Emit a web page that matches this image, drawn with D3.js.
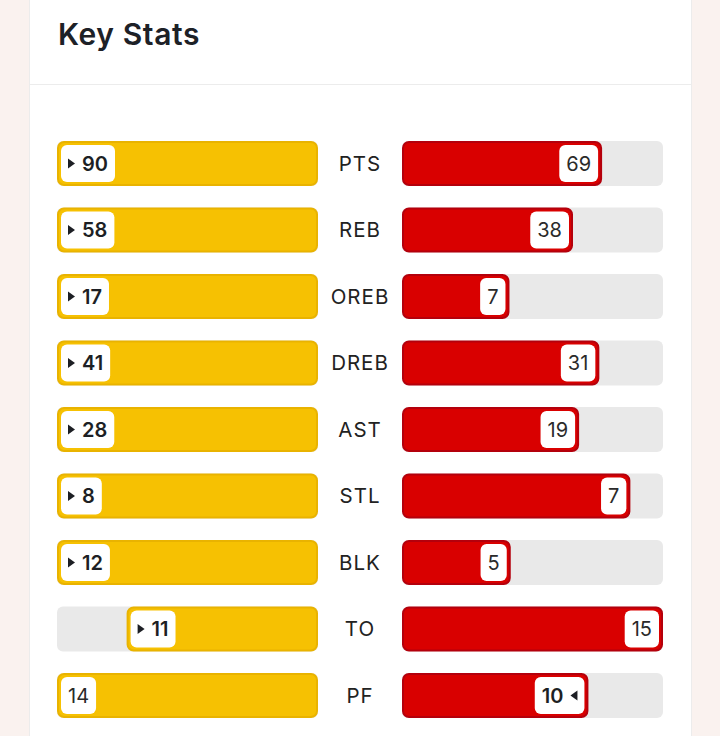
<!DOCTYPE html>
<html>
<head>
<meta charset="utf-8">
<script src="https://cdn.jsdelivr.net/npm/d3@7"></script>
<style>
  html, body { margin: 0; padding: 0; background: #faf2ef; }
  svg { display: block; }
</style>
</head>
<body>
<svg id="chart" width="720" height="736"></svg>
<script>
const categories = ["PTS", "REB", "OREB", "DREB", "AST", "STL", "BLK", "TO", "PF"];
const homeValues = [90, 58, 17, 41, 28, 8, 12, 11, 14];
const awayValues = [69, 38, 7, 31, 19, 7, 5, 15, 10];
// which side leads each stat ("home" = left, "away" = right)
const leaders = ["home", "home", "home", "home", "home", "home", "home", "home", "away"];
const title = "Key Stats";

const W = 720, H = 736;
const svg = d3.select("#chart");
const font = "Inter, 'Noto Sans', sans-serif";

// card
svg.append("rect").attr("x", 29.5).attr("y", -2).attr("width", 662).attr("height", H + 4)
  .attr("fill", "#fff").attr("stroke", "#ececec").attr("stroke-width", 1);
svg.append("line").attr("x1", 30).attr("x2", 691).attr("y1", 84.5).attr("y2", 84.5)
  .attr("stroke", "#ececec").attr("stroke-width", 1);
svg.append("text").attr("x", 58).attr("y", 45).text(title)
  .attr("font-family", font).attr("font-weight", 600).attr("font-size", 30)
  .attr("fill", "#1d2127").attr("letter-spacing", 0.6);

const y = d3.scaleBand().domain(categories).range([141, 718]).paddingInner(0.323).paddingOuter(0);
const bh = y.bandwidth();

const data = categories.map((c, i) => ({
  cat: c, home: homeValues[i], away: awayValues[i], leader: leaders[i],
  max: Math.max(homeValues[i], awayValues[i])
}));

const L0 = 57, L1 = 318, R0 = 402, R1 = 663;
const yellow = "#f6c102", yellowStroke = "#e9b300";
const red = "#d90000", redStroke = "#b4000c";
const track = "#e9e9e9";

const rows = svg.selectAll("g.row").data(data).join("g").attr("class", "row")
  .attr("transform", d => `translate(0,${y(d.cat)})`);

// tracks
rows.append("rect").attr("x", L0).attr("y", 0).attr("width", L1 - L0).attr("height", bh)
  .attr("rx", 6).attr("fill", track);
rows.append("rect").attr("x", R0).attr("y", 0).attr("width", R1 - R0).attr("height", bh)
  .attr("rx", 6).attr("fill", track);

// center labels
rows.append("text").attr("x", 360).attr("y", bh / 2).attr("dy", "0.36em")
  .attr("text-anchor", "middle").text(d => d.cat)
  .attr("font-family", font).attr("font-size", 20.5).attr("letter-spacing", 1)
  .attr("fill", "#222");

rows.each(function(d) {
  const g = d3.select(this);
  const xl = d3.scaleLinear().domain([0, d.max]).range([L1, L0]);
  const xr = d3.scaleLinear().domain([0, d.max]).range([R0, R1]);

  // home bar
  const hx = xl(d.home);
  g.append("rect").attr("x", hx + 1).attr("y", 1).attr("width", L1 - hx - 2).attr("height", bh - 2)
    .attr("rx", 6).attr("fill", yellow).attr("stroke", yellowStroke).attr("stroke-width", 2);
  // away bar
  const ax = xr(d.away);
  g.append("rect").attr("x", R0 + 1).attr("y", 1).attr("width", ax - R0 - 2).attr("height", bh - 2)
    .attr("rx", 6).attr("fill", red).attr("stroke", redStroke).attr("stroke-width", 2);

  // home label (left end of bar)
  const homeLead = d.leader === "home";
  const hg = g.append("g");
  const hbox = hg.append("rect").attr("y", 4).attr("height", bh - 8).attr("rx", 6).attr("fill", "#fff");
  const htxt = hg.append("text").attr("y", bh / 2).attr("dy", "0.36em").text(d.home)
    .attr("font-family", font).attr("font-size", 20)
    .attr("font-weight", homeLead ? 600 : 400).attr("fill", homeLead ? "#1d1f24" : "#2a2a2a");
  const hw = htxt.node().getComputedTextLength();
  const boxX = hx + 4;
  let tx = boxX + 7;
  if (homeLead) {
    hg.append("path").attr("d", `M${boxX + 7},${bh / 2 - 5} L${boxX + 14},${bh / 2} L${boxX + 7},${bh / 2 + 5} Z`)
      .attr("fill", "#1d1f24");
    tx = boxX + 21;
  }
  htxt.attr("x", tx);
  hbox.attr("x", boxX).attr("width", tx + hw + 7 - boxX);

  // away label (right end of bar)
  const awayLead = d.leader === "away";
  const ag = g.append("g");
  const abox = ag.append("rect").attr("y", 4).attr("height", bh - 8).attr("rx", 6).attr("fill", "#fff");
  const atxt = ag.append("text").attr("y", bh / 2).attr("dy", "0.36em").text(d.away)
    .attr("font-family", font).attr("font-size", 20)
    .attr("font-weight", awayLead ? 600 : 400).attr("fill", awayLead ? "#1d1f24" : "#2a2a2a");
  const aw = atxt.node().getComputedTextLength();
  const boxR = ax - 4;
  let rx = boxR - 7;
  if (awayLead) {
    ag.append("path").attr("d", `M${boxR - 7},${bh / 2 - 5} L${boxR - 14},${bh / 2} L${boxR - 7},${bh / 2 + 5} Z`)
      .attr("fill", "#1d1f24");
    rx = boxR - 21;
  }
  atxt.attr("x", rx).attr("text-anchor", "end");
  const bx = rx - aw - 7;
  abox.attr("x", bx).attr("width", boxR - bx);
});
</script>
</body>
</html>
